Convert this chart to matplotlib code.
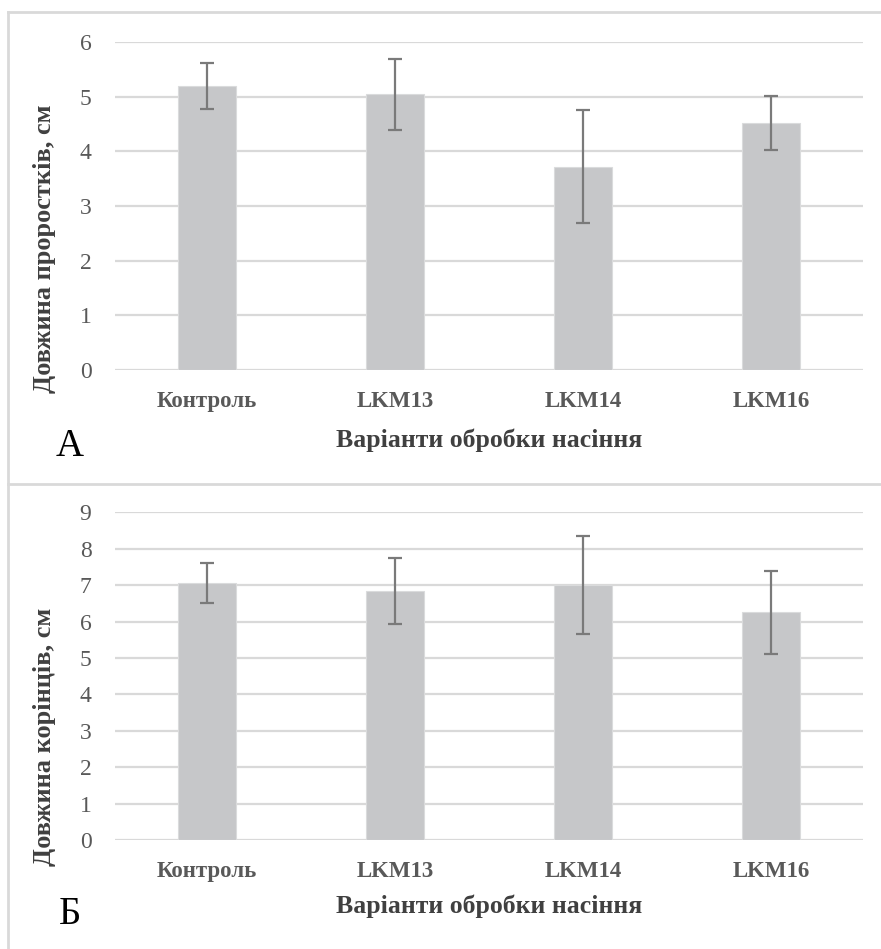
import matplotlib
matplotlib.use("Agg")
import matplotlib.pyplot as plt
from matplotlib.lines import Line2D

categories = ["Контроль", "LKM13", "LKM14", "LKM16"]
shoot_len = [5.20, 5.04, 3.72, 4.52]
shoot_err = [0.42, 0.65, 1.03, 0.49]
root_len = [7.05, 6.84, 7.00, 6.25]
root_err = [0.55, 0.90, 1.35, 1.14]

plt.rcParams['font.family'] = ['Liberation Serif', 'DejaVu Serif']

W, H = 881, 949
fig = plt.figure(figsize=(W / 100, H / 100), dpi=100)

bar_color = "#c6c7c9"
grid_color = "#d9d9d9"
err_color = "#7a7a7a"
tick_color = "#595959"
label_color = "#404040"

def fx(px):
    return px / W

def fy(py):
    return 1 - py / H

def panel(ax, vals, errs, ymax, ylabel, letter, ylab_center, xlab_y, letter_y):
    x = list(range(len(categories)))
    ax.bar(x, vals, width=0.31, color=bar_color, edgecolor="#dadbdc", linewidth=0.8, zorder=2)
    ax.errorbar(x, vals, yerr=errs, fmt="none", ecolor=err_color, elinewidth=1.6,
                capsize=5, capthick=1.6, zorder=3)
    ax.set_xlim(-0.49, 3.49)
    ax.set_ylim(0, ymax)
    ax.set_yticks(range(0, ymax + 1))
    ax.yaxis.grid(True, color=grid_color, linewidth=1.6, zorder=0)
    ax.set_axisbelow(True)
    for s in ax.spines.values():
        s.set_visible(False)
    ax.tick_params(axis="both", length=0)
    ax.tick_params(axis="y", pad=17, labelsize=17, labelcolor=tick_color)
    ax.set_xticks(x)
    ax.set_xticklabels(categories, fontsize=16.5, fontweight="bold", color=tick_color)
    ax.tick_params(axis="x", pad=15)
    fig.text(fx(45), fy(ylab_center), ylabel, rotation=90, ha="center", va="center",
             fontsize=19, fontweight="bold", color=label_color)
    fig.text(fx(489), fy(xlab_y), "Варіанти обробки насіння", ha="center", va="center",
             fontsize=18.5, fontweight="bold", color=label_color)
    fig.text(fx(70), fy(letter_y), letter, ha="center", va="center",
             fontsize=28, color="black")

ax1 = fig.add_axes([fx(115), fy(370), fx(863) - fx(115), (370 - 42) / H])
panel(ax1, shoot_len, shoot_err, 6, "Довжина проростків, см", "А", 249, 440, 447)

ax2 = fig.add_axes([fx(115), fy(840), fx(863) - fx(115), (840 - 512.3) / H])
panel(ax2, root_len, root_err, 9, "Довжина корінців, см", "Б", 737, 906, 914)

# frame lines around panels
lw = 2
fig.add_artist(Line2D([fx(8), 1], [fy(12), fy(12)], color=grid_color, linewidth=lw))
fig.add_artist(Line2D([fx(8), fx(8)], [fy(12), 0], color=grid_color, linewidth=lw))
fig.add_artist(Line2D([fx(8), 1], [fy(484), fy(484)], color=grid_color, linewidth=lw))

fig.savefig("out.png", dpi=100, facecolor="white")
